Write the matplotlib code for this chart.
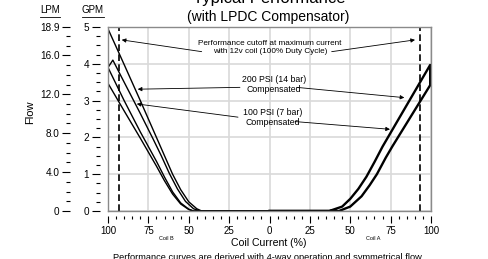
import numpy as np
import matplotlib.pyplot as plt
from matplotlib.ticker import MultipleLocator, FixedLocator, FuncFormatter
from matplotlib.lines import Line2D

plt.rcParams['font.family'] = ['Liberation Sans', 'DejaVu Sans']

GPM_TO_LPM = 3.785

# coil current in %, Coil B drawn on the negative side; flow in GPM
b_outer_x = [-100, -90, -80, -70, -65, -60, -55, -50, -45, -42, 0]
b_outer_y = [4.95, 3.98, 3.0, 2.0, 1.5, 1.0, 0.58, 0.25, 0.06, 0, 0]
b_second_x = [-97, -90, -80, -72, -67, -62, -57, -52, -47, -43, 0]
b_second_y = [4.1, 3.5, 2.65, 1.95, 1.5, 1.02, 0.6, 0.26, 0.06, 0, 0]
b_third_x = [-100, -90, -80, -75, -70, -65, -60, -55, -50, -47, 0]
b_third_y = [3.9, 3.0, 2.15, 1.75, 1.35, 0.92, 0.52, 0.22, 0.05, 0, 0]
b_inner_x = [-100, -90, -80, -75, -70, -65, -60, -55, -50, -47, 0]
b_inner_y = [3.47, 2.72, 1.98, 1.6, 1.22, 0.82, 0.46, 0.19, 0.04, 0, 0]

a_upper_x = [0, 37, 45, 50, 55, 60, 65, 70, 99.5]
a_upper_y = [0, 0, 0.12, 0.33, 0.6, 0.93, 1.33, 1.75, 3.97]
a_lower_x = [0, 43, 50, 57, 62, 66.5, 72, 76, 99.5]
a_lower_y = [0, 0, 0.12, 0.4, 0.7, 1.0, 1.45, 1.75, 3.42]

cutoff = [-93, 93]

gpm_ticks = [0, 1, 2, 3, 4, 5]
lpm_ticks = [0, 4, 8, 12, 16, 18.9]
lpm_labels = ['0', '4.0', '8.0', '12.0', '16.0', '18.9']
x_ticks = [-100, -75, -50, -25, 0, 25, 50, 75, 100]

# annotation text anchors and arrows (tail, tip)
cutoff_text = (0.3, 4.44)
cutoff_arrows = [((-42, 4.33), (-91.5, 4.65)), ((38.5, 4.33), (90.1, 4.65))]
psi200_text = (2.8, 3.44)
psi200_arrows = [((-18.3, 3.36), (-81.6, 3.31)), ((16.8, 3.36), (83.5, 3.08))]
psi100_text = (2.2, 2.54)
psi100_arrows = [((-19.5, 2.55), (-82.2, 2.91)), ((15.8, 2.43), (74.6, 2.22))]

fig = plt.figure(figsize=(4.88, 2.59), dpi=100)
ax = fig.add_axes([108 / 488, 1 - 211 / 259, 323 / 488, 184 / 259])
ax.set_xlim(-100, 100)
ax.set_ylim(0, 5)
ax.set_xticks(x_ticks)
ax.set_yticks(gpm_ticks)
ax.grid(True, color='#d9d9d9', lw=1.2)
ax.set_axisbelow(True)
ax.tick_params(length=0, labelleft=False, labelbottom=False)
for s in ax.spines.values():
    s.set_color('#8a8a8a')
    s.set_linewidth(1.0)

# coil B loops (outer with inner, second with third)
ax.plot(b_inner_x[::-1] + b_outer_x, b_inner_y[::-1] + b_outer_y, color='k', lw=1.0)
ax.plot(b_third_x[::-1] + b_second_x, b_third_y[::-1] + b_second_y, color='k', lw=1.0)
# coil A loop
ax.plot(a_upper_x + a_lower_x[::-1], a_upper_y + a_lower_y[::-1], color='k', lw=1.7)

for c in cutoff:
    ax.axvline(c, color='k', lw=1.2, dashes=(4, 2))

arrow = dict(arrowstyle='-|>', lw=0.6, color='k', mutation_scale=6, shrinkA=0, shrinkB=0)
ax.text(*cutoff_text, 'Performance cutoff at maximum current\nwith 12v coil (100% Duty Cycle)',
        ha='center', va='center', fontsize=5.9, linespacing=1.15)
for tail, tip in cutoff_arrows:
    ax.annotate('', xy=tip, xytext=tail, arrowprops=arrow)
ax.text(*psi200_text, '200 PSI (14 bar)\nCompensated', ha='center', va='center',
        fontsize=6.3, linespacing=1.15)
for tail, tip in psi200_arrows:
    ax.annotate('', xy=tip, xytext=tail, arrowprops=arrow)
ax.text(*psi100_text, '100 PSI (7 bar)\nCompensated', ha='center', va='center',
        fontsize=6.3, linespacing=1.15)
for tail, tip in psi100_arrows:
    ax.annotate('', xy=tip, xytext=tail, arrowprops=arrow)

# x axis drawn a little below the frame
secx = ax.secondary_xaxis(-0.027)
secx.set_xticks(x_ticks)
secx.xaxis.set_minor_locator(MultipleLocator(5))
secx.xaxis.set_major_formatter(FuncFormatter(lambda v, p: '%d' % abs(v)))
secx.tick_params(which='major', length=5, width=0.8, labelsize=7, pad=2)
secx.tick_params(which='minor', length=2.2, width=0.8)
for s in secx.spines.values():
    s.set_visible(False)

# GPM scale
secg = ax.secondary_yaxis(-0.025)
secg.set_yticks(gpm_ticks)
secg.yaxis.set_minor_locator(MultipleLocator(0.25))
secg.tick_params(which='major', length=5.8, width=0.8, labelsize=7.2, pad=2)
secg.tick_params(which='minor', length=2.9, width=0.8)
for s in secg.spines.values():
    s.set_visible(False)

# LPM scale
secl = ax.secondary_yaxis(-0.1176, functions=(lambda g: g * GPM_TO_LPM,
                                               lambda l: l / GPM_TO_LPM))
secl.yaxis.set_major_locator(FixedLocator(lpm_ticks))
secl.yaxis.set_major_formatter(FuncFormatter(lambda v, p: lpm_labels[p] if p is not None and p < len(lpm_labels) else ''))
secl.yaxis.set_minor_locator(FixedLocator([v for v in range(1, 19) if v % 4 != 0]))
secl.tick_params(which='major', length=5.8, width=0.8, labelsize=7.2, pad=1.7)
secl.tick_params(which='minor', length=2.6, width=0.8)
for s in secl.spines.values():
    s.set_visible(False)

ax.text(-64, -0.147, 'Coil B', transform=ax.get_xaxis_transform(), ha='center',
        va='center', fontsize=4)
ax.text(64, -0.147, 'Coil A', transform=ax.get_xaxis_transform(), ha='center',
        va='center', fontsize=4)

fig.text(0.551, 1 - 243 / 259, 'Coil Current (%)', ha='center', va='center', fontsize=7.6)
fig.text(30 / 488, 1 - 112 / 259, 'Flow', rotation=90, ha='center', va='center', fontsize=8)
fig.text(0.551, 0.988, 'Typical Performance', ha='center', va='baseline', fontsize=12)
fig.text(0.550, 1 - 17 / 259, '(with LPDC Compensator)', ha='center', va='center', fontsize=10)
fig.text(0.547, -0.002, 'Performance curves are derived with 4-way operation and symmetrical flow',
         ha='center', va='baseline', fontsize=6.7)

headers = [fig.text(50.3 / 488, 1 - 10.3 / 259, 'LPM', ha='center', va='center', fontsize=7),
           fig.text(93 / 488, 1 - 10.3 / 259, 'GPM', ha='center', va='center', fontsize=7)]
fig.canvas.draw()
for t in headers:
    bb = t.get_window_extent()
    fig.add_artist(Line2D([bb.x0, bb.x1], [bb.y0 - 1.5, bb.y0 - 1.5], transform=None,
                          color='k', lw=0.6))

fig.savefig('out.png', dpi=100)
